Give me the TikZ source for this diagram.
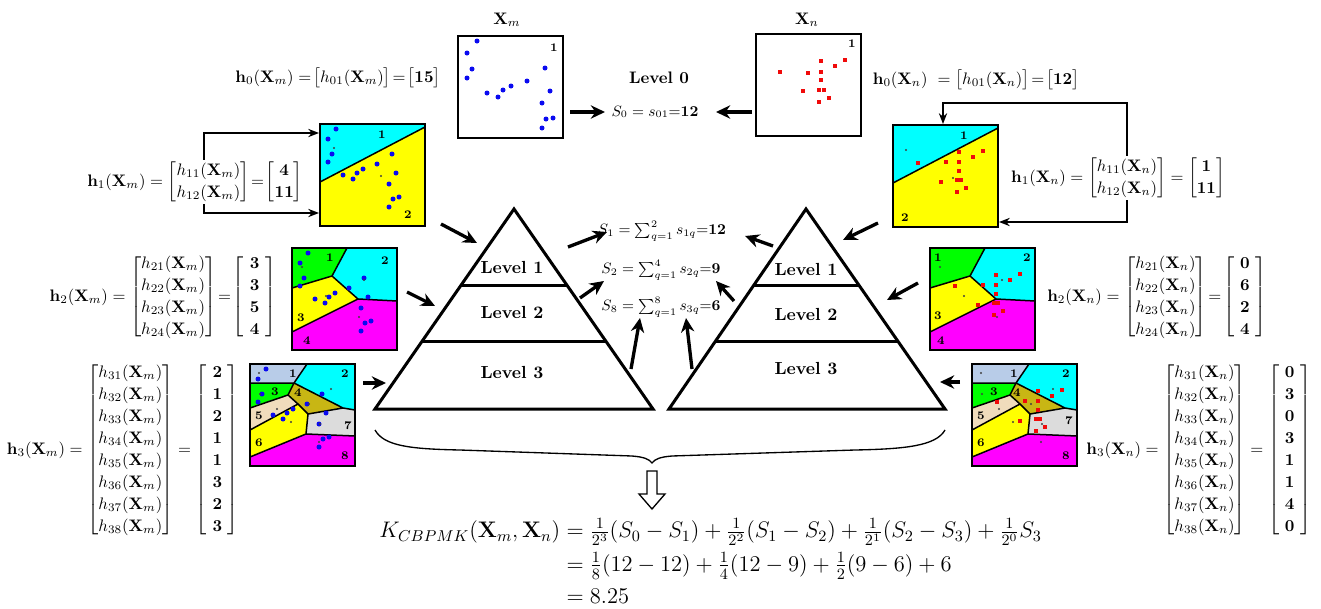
\RequirePackage{fix-cm}
\documentclass[tikz,border=0pt]{standalone}
\usepackage{amsmath}
\usetikzlibrary{arrows.meta,decorations.pathreplacing,calc}
\definecolor{rcyan}{RGB}{0,255,255}
\definecolor{ryellow}{RGB}{255,255,0}
\definecolor{rgreen}{RGB}{0,255,0}
\definecolor{rmag}{RGB}{255,0,255}
\definecolor{rlblue}{RGB}{184,204,232}
\definecolor{rbeige}{RGB}{240,220,188}
\definecolor{rolive}{RGB}{200,182,20}
\definecolor{rgray}{RGB}{220,220,220}
\definecolor{dblue}{RGB}{10,10,240}
\definecolor{dred}{RGB}{240,10,10}
\renewcommand{\arraystretch}{1.1}
\newcommand{\vecp}[1]{\left[\begin{array}{@{\hspace{3.5pt}}c@{\hspace{3.5pt}}}#1\end{array}\right]}
\newcommand{\ptsM}{16/5,8/15,12/30,8/38,23/51,33/55,37/49,43/45,57/40,72/30,76/49,69/60,73/75,79/73,69/83}
\newcommand{\ptsN}{25/38,53/37,66/27,80/32,90/26,66/37,66/46,48/57,64/55,68/55,73/63,64/67}
\newcommand{\bdots}[1]{\foreach \x/\y in #1 {\fill[dblue] (\x,\y) circle (1.5pt);}}
\newcommand{\rdots}[1]{\foreach \x/\y in #1 {\fill[dred] (\x-2.3,\y-2.3) rectangle (\x+2.3,\y+2.3);}}
\newcommand{\cents}[1]{\foreach \x/\y in {#1} {\fill[black!75] (\x,\y) circle (0.65pt);}}
\newcommand{\partI}{%
 \fill[rcyan] (0,0) -- (105,0) -- (105,3) -- (0,58) -- cycle;
 \fill[ryellow] (0,58) -- (105,3) -- (105,102) -- (0,102) -- cycle;
 \draw[part] (0,58) -- (105,3);}
\newcommand{\partII}{%
 \fill[rgreen] (0,0) -- (55,0) -- (40,28) -- (0,40) -- cycle;
 \fill[rcyan] (55,0) -- (105,0) -- (105,53) -- (66,51) -- (40,28) -- cycle;
 \fill[ryellow] (0,40) -- (40,28) -- (66,51) -- (0,84) -- cycle;
 \fill[rmag] (0,84) -- (66,51) -- (105,53) -- (105,102) -- (0,102) -- cycle;
 \draw[part] (55,0) -- (40,28) -- (0,40) (40,28) -- (66,51) -- (105,53) (66,51) -- (0,84);}
\newcommand{\partIII}{%
 \fill[rlblue] (0,0) -- (57,0) -- (44,19) -- (0,19) -- cycle;
 \fill[rcyan] (57,0) -- (105,0) -- (105,46) -- (93,44) -- (44,19) -- cycle;
 \fill[rgreen] (0,19) -- (44,19) -- (38,31) -- (0,44) -- cycle;
 \fill[rolive] (44,19) -- (93,44) -- (58,50) -- (48,40) -- (38,31) -- cycle;
 \fill[rbeige] (0,44) -- (38,31) -- (48,40) -- (0,66) -- cycle;
 \fill[ryellow] (0,66) -- (48,40) -- (58,50) -- (56,70) -- (0,93) -- cycle;
 \fill[rgray] (58,50) -- (93,44) -- (105,46) -- (105,72) -- (56,70) -- cycle;
 \fill[rmag] (0,93) -- (56,70) -- (105,72) -- (105,102) -- (0,102) -- cycle;
 \draw[part] (57,0) -- (44,19) -- (0,19) (44,19) -- (38,31) -- (0,44)
   (44,19) -- (93,44) -- (105,46) (38,31) -- (48,40) -- (58,50) -- (93,44)
   (48,40) -- (0,66) (58,50) -- (56,70) -- (0,93) (56,70) -- (105,72);}
\newcommand{\img}[4]{%
 \begin{scope}[shift={(#2,#3)}] #4 \end{scope}
 \node[frame] (#1) at (#2,#3) {};}
\begin{document}
\begin{tikzpicture}[x=0.6pt,y=-0.6pt,
  every node/.style={inner sep=0pt},
  eq/.style={font=\fontsize{10}{12}\selectfont},
  frame/.style={draw, line width=1.2pt, minimum width=63pt, minimum height=61.2pt, inner sep=0pt, outer sep=0pt, anchor=north west},
  part/.style={line width=0.9pt, line join=round},
  lbl/.style={font=\fontsize{7}{8}\selectfont\bfseries},
  lev/.style={font=\fontsize{10.5}{12}\selectfont\bfseries},
  sfont/.style={font=\fontsize{9}{11}\selectfont},
  tarr/.style={line width=0.8pt, -{Stealth[length=6.5pt,width=5pt]}, shorten >=0.6pt},
  barr/.style={line width=2pt, -{Stealth[length=8.5pt,width=8pt]}},
  pyr/.style={line width=1.8pt, line join=miter}]
\useasboundingbox (0,0) rectangle (1321,609);

% ---------- Level 0 ----------
\node[eq] (Xm) at (507,20) {$\mathbf{X}_m$};
\node[eq] (Xn) at (807,20) {$\mathbf{X}_n$};
\img{L0m}{458}{36}{%
 \foreach \x/\y in {19/5,9/17,14/33,9/42,29/57,40/61,45/54,53/50,69/45,87/32,92/55,84/67,88/83,95/82,84/92}{\fill[dblue] (\x,\y) circle (1.5pt);}
 \node[lbl] at (96,12) {1};}
\img{L0n}{756}{34}{%
 \foreach \x/\y in {24/38,52/39,65/27,79/32,89/26,65/38,65/46,47/57,63/56,68/56,73/64,63/68}{\fill[dred] (\x-2.3,\y-2.3) rectangle (\x+2.3,\y+2.3);}
 \node[lbl] at (96,10) {1};}
\node[eq,font=\fontsize{10}{12}\selectfont\bfseries] (lev0) at (659,78) {Level 0};
\node[sfont] (S0) at (655,112) {$S_0=s_{01}{=}\mathbf{12}$};
\coordinate (a13s) at (570,112); \coordinate (a13e) at (605,112);
\coordinate (a14s) at (752,112); \coordinate (a14e) at (716,112);
\draw[barr] (a13s) -- (a13e);
\draw[barr] (a14s) -- (a14e);
\node[eq] (hm0) at (338,78) {$\mathbf{h}_0(\mathbf{X}_m) =\!\begin{bmatrix}h_{01}(\mathbf{X}_m)\end{bmatrix}\!=\!\begin{bmatrix}\mathbf{15}\end{bmatrix}$};
\node[eq] (hn0) at (976,80) {$\mathbf{h}_0(\mathbf{X}_n)\ =\begin{bmatrix}h_{01}(\mathbf{X}_n)\end{bmatrix}\!=\!\begin{bmatrix}\mathbf{12}\end{bmatrix}$};

% ---------- Level 1 ----------
\img{L1m}{320}{124}{\partI \bdots{\ptsM} \cents{14/24,61/52}
 \node[lbl] at (62,11) {1}; \node[lbl] at (88,91) {2};}
\img{L1n}{893}{125}{\partI \rdots{\ptsN} \cents{13/25,60/53}
 \node[lbl] at (71,11) {1}; \node[lbl] at (12,93) {2};}
\node[eq] (hm1) at (195,182) {$\mathbf{h}_1(\mathbf{X}_m) = \begin{bmatrix}h_{11}(\mathbf{X}_m)\\ h_{12}(\mathbf{X}_m)\end{bmatrix}\!=\!\begin{bmatrix}\mathbf{4}\\ \mathbf{11}\end{bmatrix}$};
\node[eq] (hn1) at (1118,178) {$\mathbf{h}_1(\mathbf{X}_n) = \begin{bmatrix}h_{11}(\mathbf{X}_n)\\ h_{12}(\mathbf{X}_n)\end{bmatrix} = \begin{bmatrix}\mathbf{1}\\ \mathbf{11}\end{bmatrix}$};
\coordinate (lx) at (204,133); \coordinate (lxb) at (204,213);
\draw[tarr] (hm1.north -| lx) -- (lx) -- (L1m.west |- lx);
\draw[tarr] (hm1.south -| lxb) -- (lxb) -- (L1m.west |- lxb);
\coordinate (rx) at (1127,103); \coordinate (rtop) at (943,103); \coordinate (rxb) at (1127,222);
\draw[tarr] (hn1.north -| rx) -- (rx) -- (rtop) -- (L1n.north -| rtop);
\draw[tarr] (hn1.south -| rxb) -- (rxb) -- (L1n.east |- rxb);

% ---------- Level 2 ----------
\img{L2m}{292}{248}{\partII \bdots{\ptsM} \cents{10/19,34/48,72/32,67/69}
 \node[lbl] at (38,10) {1}; \node[lbl] at (93,13) {2}; \node[lbl] at (9,70) {3}; \node[lbl] at (15,93) {4};}
\img{L2n}{930}{248}{\partII \rdots{\ptsN} \cents{10/19,34/48,72/32,67/69}
 \node[lbl] at (8,10) {1}; \node[lbl] at (97,10) {2}; \node[lbl] at (8,68) {3}; \node[lbl] at (11,93) {4};}
\node[eq] (hm2) at (163,297) {$\mathbf{h}_2(\mathbf{X}_m) = \begin{bmatrix}h_{21}(\mathbf{X}_m)\\ h_{22}(\mathbf{X}_m)\\ h_{23}(\mathbf{X}_m)\\ h_{24}(\mathbf{X}_m)\end{bmatrix}\!=\!\vecp{\mathbf{3}\\ \mathbf{3}\\ \mathbf{5}\\ \mathbf{4}}$};
\node[eq] (hn2) at (1157,297) {$\mathbf{h}_2(\mathbf{X}_n) = \begin{bmatrix}h_{21}(\mathbf{X}_n)\\ h_{22}(\mathbf{X}_n)\\ h_{23}(\mathbf{X}_n)\\ h_{24}(\mathbf{X}_n)\end{bmatrix}\!=\!\vecp{\mathbf{0}\\ \mathbf{6}\\ \mathbf{2}\\ \mathbf{4}}$};

% ---------- Level 3 ----------
\img{L3m}{250}{364}{\partIII \bdots{\ptsM} \cents{9/9,10/30,27/45,41/58,59/40,81/25,70/60,69/78}
 \node[lbl] at (43,10) {1}; \node[lbl] at (95,10) {2}; \node[lbl] at (25,28) {3}; \node[lbl] at (48,29) {4};
 \node[lbl] at (9,52) {5}; \node[lbl] at (9,79) {6}; \node[lbl] at (98,62) {7}; \node[lbl] at (95,92) {8};}
\img{L3n}{972}{364}{\partIII \rdots{\ptsN} \cents{9/9,10/30,27/45,41/58,59/40,81/25,70/60,69/78}
 \node[lbl] at (42,10) {1}; \node[lbl] at (94,10) {2}; \node[lbl] at (22,28) {3}; \node[lbl] at (45,29) {4};
 \node[lbl] at (9,52) {5}; \node[lbl] at (9,79) {6}; \node[lbl] at (97,57) {7}; \node[lbl] at (94,92) {8};}
\node[eq] (hm3) at (123,450) {$\mathbf{h}_3(\mathbf{X}_m) = \begin{bmatrix}h_{31}(\mathbf{X}_m)\\ h_{32}(\mathbf{X}_m)\\ h_{33}(\mathbf{X}_m)\\ h_{34}(\mathbf{X}_m)\\ h_{35}(\mathbf{X}_m)\\ h_{36}(\mathbf{X}_m)\\ h_{37}(\mathbf{X}_m)\\ h_{38}(\mathbf{X}_m)\end{bmatrix} = \vecp{\mathbf{2}\\ \mathbf{1}\\ \mathbf{2}\\ \mathbf{1}\\ \mathbf{1}\\ \mathbf{3}\\ \mathbf{2}\\ \mathbf{3}}$};
\node[eq] (hn3) at (1199,450) {$\mathbf{h}_3(\mathbf{X}_n) = \begin{bmatrix}h_{31}(\mathbf{X}_n)\\ h_{32}(\mathbf{X}_n)\\ h_{33}(\mathbf{X}_n)\\ h_{34}(\mathbf{X}_n)\\ h_{35}(\mathbf{X}_n)\\ h_{36}(\mathbf{X}_n)\\ h_{37}(\mathbf{X}_n)\\ h_{38}(\mathbf{X}_n)\end{bmatrix} = \vecp{\mathbf{0}\\ \mathbf{3}\\ \mathbf{0}\\ \mathbf{3}\\ \mathbf{1}\\ \mathbf{1}\\ \mathbf{4}\\ \mathbf{0}}$};

% ---------- Pyramids ----------
\coordinate (PLa) at (514,209); \coordinate (PLb) at (375,409); \coordinate (PLc) at (653,409);
\coordinate (PRa) at (806,209); \coordinate (PRb) at (669,409); \coordinate (PRc) at (945,409);
\draw[pyr] (PLa) -- (PLb) -- (PLc) -- cycle;
\draw[pyr] ($(PLa)!0.38!(PLb)$) -- ($(PLa)!0.38!(PLc)$);
\draw[pyr] ($(PLa)!0.66!(PLb)$) -- ($(PLa)!0.66!(PLc)$);
\draw[pyr] (PRa) -- (PRb) -- (PRc) -- cycle;
\draw[pyr] ($(PRa)!0.38!(PRb)$) -- ($(PRa)!0.38!(PRc)$);
\draw[pyr] ($(PRa)!0.66!(PRb)$) -- ($(PRa)!0.66!(PRc)$);
\node[lev] (PL1) at (512,267) {Level 1};
\node[lev] (PL2) at (512,312) {Level 2};
\node[lev] (PL3) at (512,373) {Level 3};
\node[lev] (PR1) at (806,269) {Level 1};
\node[lev] (PR2) at (806,314) {Level 2};
\node[lev] (PR3) at (806,369) {Level 3};

\node[sfont] (S1) at (662,231) {$S_1=\sum_{q=1}^{2}s_{1q}{=}\mathbf{12}$};
\node[sfont] (S2) at (661,270) {$S_2=\sum_{q=1}^{4}s_{2q}{=}\mathbf{9}$};
\node[sfont] (S8) at (661,307) {$S_8=\sum_{q=1}^{8}s_{3q}{=}\mathbf{6}$};

% ---------- thick arrows ----------
\foreach \n/\ax/\ay/\bx/\by in {1/441/224/477/243, 2/407/292/435/306, 3/363/383/386/383,
  4/568/247/607/232, 5/580/298/604/281, 6/631/369/640/318, 7/692/369/686/318,
  8/734/301/716/281, 9/773/246/745/236, 10/878/223/843/240, 11/918/283/887/300, 12/960/382/940/382}{
  \coordinate (as\n) at (\ax,\ay); \coordinate (ae\n) at (\bx,\by);
  \draw[barr] (as\n) -- (ae\n);}

% ---------- brace and result ----------
\coordinate (BL) at (375,430); \coordinate (BR) at (945,430); \coordinate (BT) at (652,463);
\draw[line width=0.8pt] (BL) .. controls (384,446) and (410,449) .. (460,450) -- (632,456)
  .. controls (644,457) and (649,459) .. (BT)
  .. controls (655,459) and (660,457) .. (672,456) -- (855,450)
  .. controls (905,449) and (936,446) .. (BR);
\draw[line width=0.8pt, fill=white] (647,471) -- (657,471) -- (657,494) -- (665,494) -- (652,509) -- (639,494) -- (647,494) -- cycle;
\node[anchor=west, font=\fontsize{13.5}{16}\selectfont] (K) at (379,565) {$\begin{aligned}
 K_{CBPMK}(\mathbf{X}_m,\mathbf{X}_n) &= \tfrac{1}{2^3}(S_0-S_1)+\tfrac{1}{2^2}(S_1-S_2)+\tfrac{1}{2^1}(S_2-S_3)+\tfrac{1}{2^0}S_3\\
 &= \tfrac{1}{8}(12-12)+\tfrac{1}{4}(12-9)+\tfrac{1}{2}(9-6)+6\\
 &= 8.25\end{aligned}$};
\end{tikzpicture}
\end{document}
